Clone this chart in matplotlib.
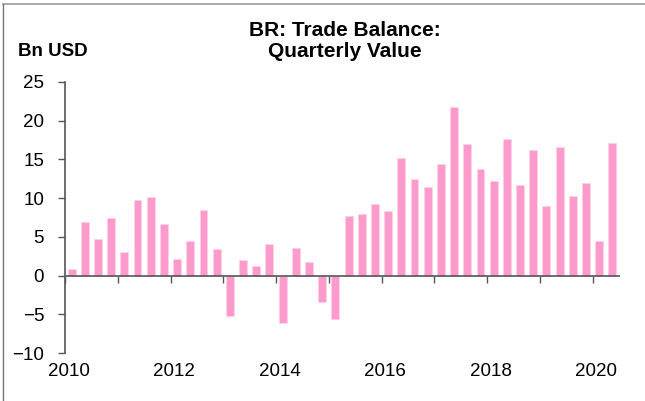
import matplotlib
matplotlib.use("Agg")
import matplotlib.pyplot as plt
from matplotlib.lines import Line2D
import numpy as np

plt.rcParams['font.family'] = ['Liberation Sans', 'DejaVu Sans']

# quarterly trade balance, Bn USD, 2010Q1 .. 2020Q2
values = [0.9, 6.9, 4.7, 7.4, 3.1, 9.8, 10.1, 6.7, 2.2, 4.5, 8.5, 3.4,
          -5.2, 2.0, 1.2, 4.1, -6.1, 3.5, 1.7, -3.4, -5.6,
          7.7, 8.0, 9.3, 8.3, 15.2, 12.5, 11.5, 14.4, 21.8, 17.0, 13.7,
          12.2, 17.7, 11.7, 16.2, 9.0, 16.6, 10.3, 12.0, 4.5, 17.1]
start_year = 2010
year_labels = ['2010', '2012', '2014', '2016', '2018', '2020']
yticks = [-10, -5, 0, 5, 10, 15, 20, 25]

x = start_year + (np.arange(len(values)) + 0.5) / 4

fig = plt.figure(figsize=(6.45, 4.01), dpi=100)
ax = fig.add_axes([65/645, 48/401, 555/645, 271/401])

ax.bar(x, values, width=0.15, color='#ff9acd', edgecolor='#ffd0e6', linewidth=0.6, zorder=2)
ax.axhline(0, color='#555555', lw=1.2, zorder=3)

ax.set_xlim(2010, 2020.52)
ax.set_ylim(-10, 25)

for s in ['top', 'right', 'bottom']:
    ax.spines[s].set_visible(False)
ax.spines['left'].set_color('#555555')
ax.spines['left'].set_linewidth(1.2)

ax.set_yticks(yticks)
ax.tick_params(axis='y', direction='out', length=5, width=1, color='#555555',
               labelsize=13.5, pad=10)

# year labels along the bottom, no ticks
ax.set_xticks([int(y) + 0.07 for y in year_labels])
ax.set_xticklabels(year_labels)
ax.tick_params(axis='x', length=0, labelsize=13.5, pad=7)

# yearly ticks hanging from the zero line
zero_pos = (0 - (-10)) / 35
sec = ax.secondary_xaxis(zero_pos)
sec.set_xticks(np.arange(2010, 2021))
sec.set_xticklabels([])
sec.tick_params(direction='out', length=5, width=1, color='#555555')
sec.spines['bottom'].set_visible(False)

fig.text(345/645, 1 - 41/401, 'BR: Trade Balance:\nQuarterly Value', ha='center', va='center',
         fontsize=15, fontweight='bold', linespacing=1.1)
fig.text(18/645, 1 - 52/401, 'Bn USD', ha='left', va='center', fontsize=13.5, fontweight='bold')

# thin frame at top and left
fig.add_artist(Line2D([3/645, 1], [1 - 4/401, 1 - 4/401], color='#999999', lw=1.2))
fig.add_artist(Line2D([3/645, 3/645], [0, 1 - 4/401], color='#777777', lw=1.0))

fig.savefig('out.png', dpi=100)
